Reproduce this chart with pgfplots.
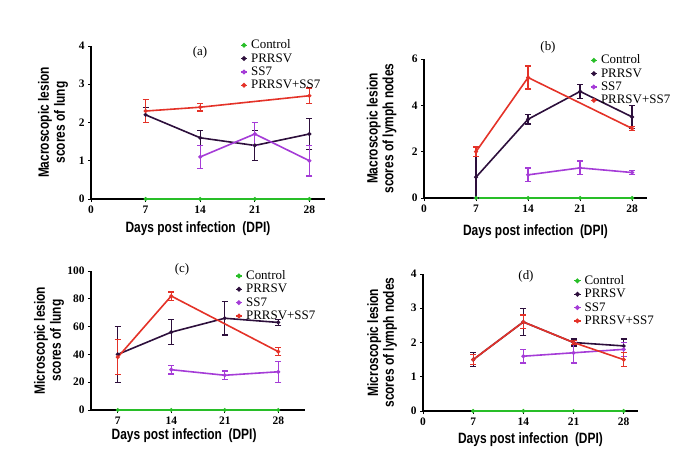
\documentclass[border=0pt]{standalone}
\usepackage{fontspec}
\setmainfont{Liberation Serif}
\newfontfamily\narrowfont[FakeStretch=0.8]{Liberation Sans}
\usepackage{pgfplots}
\pgfplotsset{compat=1.18}

\definecolor{ctrl}{RGB}{40,190,40}
\definecolor{prrsv}{RGB}{45,15,60}
\definecolor{ss7}{RGB}{165,60,215}
\definecolor{combo}{RGB}{228,50,40}

\tikzset{ptitle/.style={font=\fontsize{13}{14}\selectfont, anchor=center}}
\pgfplotsset{
  panel/.style={
    scale only axis, anchor=south west, clip=false,
    axis lines=left, axis line style={-, line width=1.5bp},
    tick align=outside, major tick length=3bp, tick style={black, line width=1bp},
    xmin=0, xmax=30, xtick={0,7,14,21,28}, ymin=0,
    /pgf/number format/assume math mode=true,
    ticklabel style={font=\fontsize{11.5}{12}\selectfont\bfseries},
    label style={font=\narrowfont\bfseries\fontsize{15}{16}\selectfont, align=center, anchor=center},
    legend cell align=left,
    legend style={draw=none, fill=none, anchor=north west,
      font=\fontsize{13}{13}\selectfont, inner sep=0pt, row sep=0pt,
      nodes={inner sep=1pt, text height=9.2pt, text depth=2.2pt}},
    legend image code/.code={
      \draw[##1, line width=1.2bp] (0cm,0cm) -- (0.22cm,0cm);
      \fill[##1] (0.11cm,0cm) circle (1.5bp);
      \path (0.3cm,0cm);},
    every axis plot/.append style={line width=1.6bp, mark=*, mark size=1.1bp},
  },
  eb/.style={error bars/.cd, y dir=both, y explicit,
    error bar style={line width=1.3bp},
    error mark=|, error mark options={line width=1.3bp, mark size=3bp}},
}

\begin{document}
\begin{tikzpicture}
\useasboundingbox (0,0) rectangle (685bp,-471bp);

% (a) macroscopic, lung
\begin{axis}[panel, at={(91bp,-199bp)}, width=234bp, height=153bp,
  ymax=4, ytick={0,1,2,3,4},
  ylabel={Macroscopic lesion\\scores of lung},
  ylabel style={at={(axis description cs:-0.162,0.5)}},
  xlabel={Days post infection~~(DPI)},
  xlabel style={at={(axis description cs:0.457,-0.196)}},
  legend style={at={(axis description cs:0.637,1.05)}}]
\addplot[ctrl] coordinates {(7,0) (14,0) (21,0) (28,0)};
\addplot[prrsv, eb] coordinates {(7,2.2) +- (0,0.2) (14,1.6) +- (0,0.2) (21,1.4) +- (0,0.4) (28,1.7) +- (0,0.4)};
\addplot[ss7, eb] coordinates {(14,1.1) +- (0,0.3) (21,1.7) +- (0,0.3) (28,1.0) +- (0,0.4)};
\addplot[combo, eb] coordinates {(7,2.3) +- (0,0.3) (14,2.4) +- (0,0.1) (28,2.7) +- (0,0.2)};
\legend{Control, PRRSV, SS7, PRRSV+SS7}
\node[ptitle] at (rel axis cs:0.466,0.96) {(a)};
\end{axis}

% (b) macroscopic, lymph nodes
\begin{axis}[panel, at={(424bp,-198bp)}, width=223bp, height=139bp,
  ymax=6, ytick={0,2,4,6},
  ylabel={Macroscopic lesion\\scores of lymph nodes},
  ylabel style={at={(axis description cs:-0.19,0.5)}},
  xlabel={Days post infection~~(DPI)},
  xlabel style={at={(axis description cs:0.5,-0.245)}},
  legend style={at={(axis description cs:0.744,1.04)}}]
\addplot[ctrl] coordinates {(7,0) (14,0) (21,0) (28,0)};
\addplot[prrsv, eb] coordinates {(7,0.9) +- (0,0.9) (14,3.4) +- (0,0.2) (21,4.6) +- (0,0.3) (28,3.5) +- (0,0.5)};
\addplot[ss7, eb] coordinates {(14,1.0) +- (0,0.3) (21,1.3) +- (0,0.3) (28,1.1) +- (0,0.1)};
\addplot[combo, eb] coordinates {(7,2.0) +- (0,0.2) (14,5.2) +- (0,0.5) (28,3.0) +- (0,0.1)};
\legend{Control, PRRSV, SS7, PRRSV+SS7}
\node[ptitle] at (rel axis cs:0.556,1.086) {(b)};
\end{axis}

% (c) microscopic, lung
\begin{axis}[panel, at={(91bp,-410bp)}, width=214bp, height=139bp,
  xmin=3.5, xmax=31.5, xtick={7,14,21,28},
  ymax=100, ytick={0,20,40,60,80,100},
  ylabel={Microscopic lesion\\scores of lung},
  ylabel style={at={(axis description cs:-0.196,0.5)}},
  xlabel={Days post infection~~(DPI)},
  xlabel style={at={(axis description cs:0.435,-0.187)}},
  legend style={at={(axis description cs:0.673,1.014)}}]
\addplot[ctrl] coordinates {(7,0) (14,0) (21,0) (28,0)};
\addplot[prrsv, eb] coordinates {(7,40) +- (0,20) (14,56) +- (0,9) (21,66) +- (0,12) (28,63) +- (0,2)};
\addplot[ss7, eb] coordinates {(14,29) +- (0,3) (21,25) +- (0,3) (28,27.5) +- (0,7.5)};
\addplot[combo, eb] coordinates {(7,38) +- (0,12.5) (14,82) +- (0,3) (28,42) +- (0,3)};
\legend{Control, PRRSV, SS7, PRRSV+SS7}
\node[ptitle] at (rel axis cs:0.425,1.014) {(c)};
\end{axis}

% (d) microscopic, lymph nodes
\begin{axis}[panel, at={(423bp,-411bp)}, width=215bp, height=137bp,
  ymax=4, ytick={0,1,2,3,4},
  ylabel={Microscopic lesion\\scores of lymph nodes},
  ylabel style={at={(axis description cs:-0.19,0.5)}},
  xlabel={Days post infection~~(DPI)},
  xlabel style={at={(axis description cs:0.5,-0.21)}},
  legend style={at={(axis description cs:0.70,1.0)}}]
\addplot[ctrl] coordinates {(7,0) (14,0) (21,0) (28,0)};
\addplot[prrsv, eb] coordinates {(7,1.5) +- (0,0.2) (14,2.6) +- (0,0.4) (21,2.0) +- (0,0.1) (28,1.9) +- (0,0.2)};
\addplot[ss7, eb] coordinates {(14,1.6) +- (0,0.2) (21,1.7) +- (0,0.3) (28,1.8) +- (0,0.2)};
\addplot[combo, eb] coordinates {(7,1.5) +- (0,0.15) (14,2.6) +- (0,0.2) (21,2.0) +- (0,0.05) (28,1.5) +- (0,0.2)};
\legend{Control, PRRSV, SS7, PRRSV+SS7}
\node[ptitle] at (rel axis cs:0.479,0.985) {(d)};
\end{axis}
\end{tikzpicture}
\end{document}
